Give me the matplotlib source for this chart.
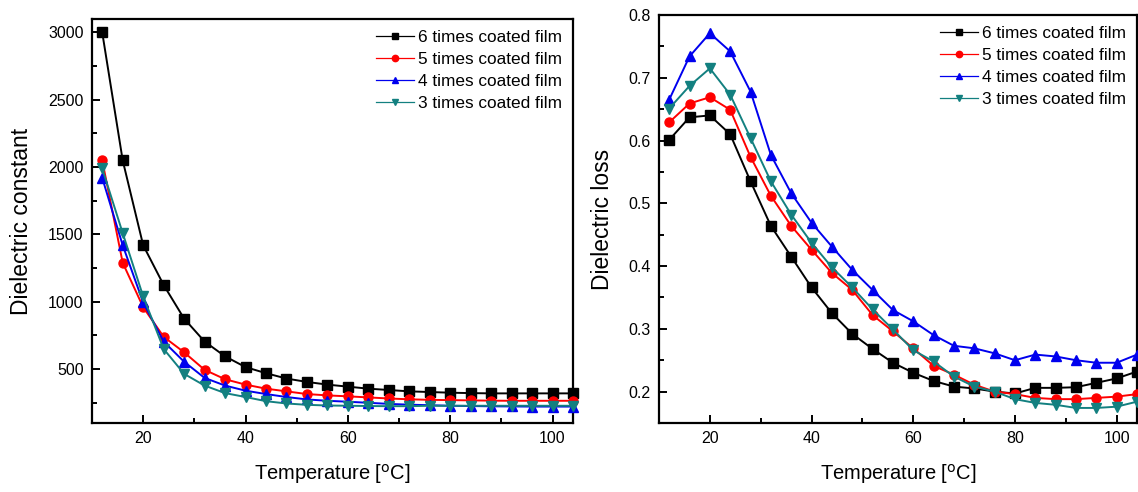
import matplotlib
matplotlib.use("Agg")
import matplotlib.pyplot as plt
from matplotlib.ticker import MultipleLocator

plt.rcParams['font.family'] = ['Liberation Sans', 'DejaVu Sans']

temperature = [12, 16, 20, 24, 28, 32, 36, 40, 44, 48, 52, 56, 60, 64, 68, 72, 76, 80, 84, 88, 92, 96, 100, 104]

series_labels = ["6 times coated film", "5 times coated film", "4 times coated film", "3 times coated film"]

const_6 = [3000, 2050, 1420, 1125, 875, 705, 595, 515, 470, 430, 405, 385, 370, 355, 345, 335, 330, 325, 322, 320, 320, 320, 320, 320]
const_5 = [2050, 1290, 960, 740, 625, 495, 425, 385, 355, 335, 315, 305, 298, 290, 282, 276, 272, 270, 268, 266, 265, 265, 265, 265]
const_4 = [1920, 1420, 995, 705, 555, 435, 378, 340, 315, 293, 275, 265, 258, 250, 242, 236, 232, 228, 226, 224, 223, 222, 222, 222]
const_3 = [1990, 1510, 1040, 650, 465, 378, 322, 293, 262, 245, 235, 230, 228, 226, 225, 225, 228, 228, 228, 228, 228, 228, 228, 228]

loss_6 = [0.601, 0.637, 0.640, 0.610, 0.535, 0.464, 0.415, 0.366, 0.325, 0.292, 0.268, 0.246, 0.230, 0.217, 0.208, 0.205, 0.200, 0.197, 0.206, 0.206, 0.207, 0.214, 0.221, 0.232]
loss_5 = [0.629, 0.659, 0.669, 0.649, 0.574, 0.512, 0.464, 0.426, 0.389, 0.362, 0.322, 0.296, 0.269, 0.241, 0.227, 0.211, 0.200, 0.196, 0.190, 0.188, 0.188, 0.190, 0.192, 0.196]
loss_4 = [0.665, 0.734, 0.771, 0.742, 0.678, 0.577, 0.516, 0.469, 0.431, 0.394, 0.362, 0.330, 0.312, 0.290, 0.273, 0.269, 0.261, 0.250, 0.259, 0.256, 0.250, 0.246, 0.246, 0.259]
loss_3 = [0.651, 0.687, 0.715, 0.673, 0.604, 0.535, 0.482, 0.437, 0.398, 0.366, 0.331, 0.299, 0.266, 0.248, 0.224, 0.208, 0.200, 0.188, 0.182, 0.179, 0.174, 0.174, 0.176, 0.184]

colors = ["black", "#ff0000", "#0000ee", "#138080"]
markers = ["s", "o", "^", "v"]

fig = plt.figure(figsize=(11.38, 4.92), dpi=100)
ax1 = fig.add_axes([92/1138, 1-423/492, (573-92)/1138, (423-19)/492])
ax2 = fig.add_axes([659/1138, 1-423/492, (1137-659)/1138, (423-15)/492])

def draw(ax, series):
    for vals, c, m, lab in zip(series, colors, markers, series_labels):
        ax.plot(temperature, vals, color=c, marker=m, markersize=6.5, linewidth=1.4,
                label=lab, clip_on=False, zorder=3)
    for s in ax.spines.values():
        s.set_linewidth(1.6)
    ax.tick_params(which='both', direction='in', top=False, right=False,
                   labelsize=11.5, width=1.4)
    ax.tick_params(which='major', length=6, pad=6)
    ax.tick_params(which='minor', length=3.5)
    ax.xaxis.set_major_locator(MultipleLocator(20))
    ax.xaxis.set_minor_locator(MultipleLocator(10))
    ax.set_xlim(10, 104)
    ax.set_xlabel("Temperature [$^{\\rm o}$C]", fontsize=14.5, labelpad=11)
    leg = ax.legend(loc='upper right', frameon=False, fontsize=12.4, handlelength=2.2,
                    handletextpad=0.2, labelspacing=0.4, borderaxespad=0.25,
                    markerscale=0.7)
    for h in leg.get_lines():
        h.set_linewidth(0.9)

draw(ax1, [const_6, const_5, const_4, const_3])
ax1.set_ylim(100, 3100)
ax1.yaxis.set_major_locator(MultipleLocator(500))
ax1.yaxis.set_minor_locator(MultipleLocator(250))
ax1.set_ylabel("Dielectric constant", fontsize=16.5, labelpad=11)

draw(ax2, [loss_6, loss_5, loss_4, loss_3])
ax2.set_ylim(0.15, 0.8)
ax2.yaxis.set_major_locator(MultipleLocator(0.1))
ax2.yaxis.set_minor_locator(MultipleLocator(0.05))
ax2.set_ylabel("Dielectric loss", fontsize=16.5, labelpad=10)

fig.savefig("out.png", dpi=100)
